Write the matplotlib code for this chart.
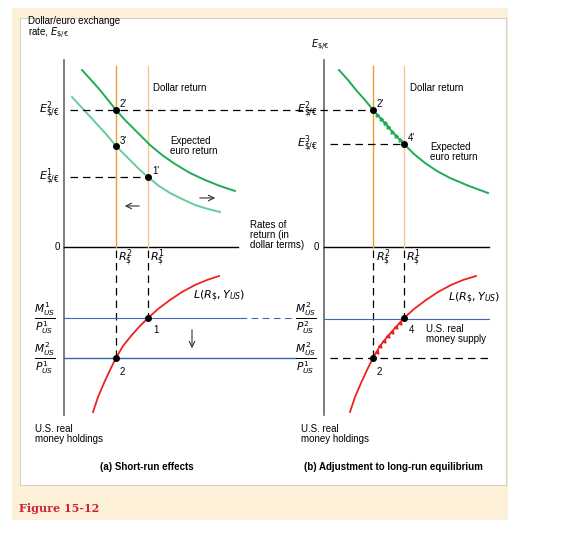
import matplotlib
matplotlib.use("Agg")
import matplotlib.pyplot as plt
from matplotlib.patches import Rectangle

plt.rcParams['font.family'] = ['Liberation Sans', 'DejaVu Sans']

# curve points (pixel-space sketch)
eur_new_x = [82, 92, 100, 108, 116, 125, 135, 143, 150, 162, 175, 190, 205, 220, 235]
eur_new_y = [70, 81, 90, 100, 110, 120, 130, 138, 145, 155, 164, 173, 180, 186, 191]
eur_old_x = [72, 84, 95, 106, 116, 124, 132, 140, 148, 159, 170, 182, 195, 208, 220]
eur_old_y = [97, 110, 122, 134, 146, 154, 162, 170, 177, 186, 193, 199, 205, 209, 212]
eurB_x = [339, 348, 356, 365, 373, 381, 388, 396, 404, 414, 425, 437, 450, 469, 488]
eurB_y = [70, 80, 90, 100, 110, 119, 127, 136, 144, 154, 163, 171, 178, 186, 193]
L_x = [93, 98, 104, 110, 116, 123, 131, 139, 148, 158, 170, 182, 195, 207, 219]
L_y = [412, 397, 383, 370, 358, 346, 336, 327, 318, 309, 300, 292, 285, 280, 276]
LB_x = [350, 355, 361, 367, 373, 380, 388, 396, 404, 414, 426, 438, 451, 463, 476]
LB_y = [412, 397, 383, 370, 358, 346, 336, 327, 318, 309, 300, 292, 285, 280, 276]

fig = plt.figure(figsize=(5.81, 5.33), dpi=100)
ax = fig.add_axes([0, 0, 1, 1])
ax.set_xlim(0, 581); ax.set_ylim(533, 0); ax.axis('off')

ax.add_patch(Rectangle((12, 8), 496, 512, fc='#fdf0d8', ec='none'))
ax.add_patch(Rectangle((20, 18), 486, 467, fc='white', ec='#d8d0c0', lw=0.8))

fs = 7
dgreen, lgreen, orange, red, blue = '#1faa55', '#66cc99', '#e8a030', '#ee2222', '#4466bb'
dash = dict(color='black', lw=0.9, ls=(0, (6, 4)))

for x0, x1 in [(64, 238), (324, 489)]:
    ax.plot([x0, x0], [60, 415], color='#666', lw=1.2)
    ax.plot([x0, x1], [247, 247], color='black', lw=1)
for x, c in [(116, orange), (148, '#f4c890'), (373, orange), (404, '#f4c890')]:
    ax.plot([x, x], [66, 247], color=c, lw=1)
ax.plot(eur_new_x, eur_new_y, color=dgreen, lw=1.4)
ax.plot(eur_old_x, eur_old_y, color=lgreen, lw=1.4)
ax.plot(eurB_x, eurB_y, color=dgreen, lw=1.4)
ax.plot(L_x, L_y, color=red, lw=1.3)
ax.plot(LB_x, LB_y, color=red, lw=1.3)
ax.plot([70, 372], [110, 110], **dash)
ax.plot([70, 148], [177, 177], **dash)
ax.plot([330, 404], [144, 144], **dash)
for x, y in [(116, 358), (148, 318), (373, 358), (404, 318)]:
    ax.plot([x, x], [250, y], **dash)
ax.plot([330, 489], [358, 358], **dash)
ax.plot([64, 240], [318, 318], color=blue, lw=0.8)
ax.plot([240, 296], [318, 318], color=blue, lw=0.8, ls=(0, (6, 4)))
ax.plot([64, 296], [358, 358], color='#3366aa', lw=1)
ax.plot([324, 489], [319, 319], color=blue, lw=0.8)
for x, y in [(116, 110), (116, 146), (148, 177), (373, 110), (404, 144),
             (148, 318), (116, 358), (404, 318), (373, 358)]:
    ax.plot(x, y, 'o', color='black', ms=4)
ap = dict(arrowstyle='->', color='#333', lw=0.8)
ax.annotate('', xy=(122, 206), xytext=(142, 206), arrowprops=ap)
ax.annotate('', xy=(218, 198), xytext=(197, 198), arrowprops=ap)
ax.annotate('', xy=(192, 351), xytext=(192, 327), arrowprops=ap)
# small chevrons along the adjusting curves
for i in range(1, 8):
    a = (eurB_x[4 + i // 2] + eurB_x[4 + (i + 1) // 2]) / 2, (eurB_y[4 + i // 2] + eurB_y[4 + (i + 1) // 2]) / 2
    ax.plot(a[0], a[1], marker=(3, 0, 20), color=dgreen, ms=3)
for i in range(1, 8):
    a = (LB_x[4 + i // 2] + LB_x[4 + (i + 1) // 2]) / 2, (LB_y[4 + i // 2] + LB_y[4 + (i + 1) // 2]) / 2
    ax.plot(a[0], a[1], marker=(3, 0, -20), color=red, ms=3)

T = lambda x, y, s, **k: ax.text(x, y, s, fontsize=k.pop('fs', fs), **k)
T(28, 40, 'Dollar/euro exchange\nrate, $E_{\\$/€}$', va='bottom', linespacing=1.0)
T(311, 52, '$E_{\\$/€}$', va='bottom')
T(153, 88, 'Dollar return', va='center')
T(410, 88, 'Dollar return', va='center')
T(170, 146, 'Expected\neuro return', va='center', linespacing=0.95)
T(430, 152, 'Expected\neuro return', va='center', linespacing=0.95)
T(250, 235, 'Rates of\nreturn (in\ndollar terms)', va='center', linespacing=0.95)
T(57, 247, '0', va='center', ha='center')
T(316, 247, '0', va='center', ha='center')
for x, s in [(49, '$E^2_{\\$/€}$'), (307, '$E^2_{\\$/€}$')]:
    T(x, 110, s, ha='center', va='center', fs=8)
T(49, 177, '$E^1_{\\$/€}$', ha='center', va='center', fs=8)
T(307, 144, '$E^3_{\\$/€}$', ha='center', va='center', fs=8)
for x, n in [(118, 2), (150, 1), (376, 2), (406, 1)]:
    T(x, 258, '$R^{%d}_{\\$}$' % n, va='center', fs=8)
for (x, y, s) in [(120, 104, "2'"), (120, 141, "3'"), (152, 171, "1'"), (377, 104, "2'"), (408, 138, "4'")]:
    T(x, y, s, va='center')
T(153, 330, '1', va='center'); T(120, 372, '2', va='center')
T(409, 330, '4', va='center'); T(377, 372, '2', va='center')
T(193, 296, '$L(R_{\\$}, Y_{US})$', va='center', fs=8)
T(448, 298, '$L(R_{\\$}, Y_{US})$', va='center', fs=8)
T(426, 334, 'U.S. real\nmoney supply', va='center', linespacing=0.95)
for x, y, a, b in [(45, 318, 1, 1), (45, 358, 2, 1), (306, 318, 2, 2), (306, 358, 2, 1)]:
    T(x, y, '$\\frac{M^{%d}_{US}}{P^{%d}_{US}}$' % (a, b), ha='center', va='center', fs=11)
T(35, 434, 'U.S. real\nmoney holdings', va='center', linespacing=0.95)
T(301, 434, 'U.S. real\nmoney holdings', va='center', linespacing=0.95)
T(147, 467, '(a) Short-run effects', ha='center', va='center', weight='bold')
T(393, 467, '(b) Adjustment to long-run equilibrium', ha='center', va='center', weight='bold')
T(19, 508, 'Figure 15-12', va='center', color='#d0203a', weight='bold', fs=8, family='DejaVu Serif')

fig.savefig('out.png', dpi=100)
